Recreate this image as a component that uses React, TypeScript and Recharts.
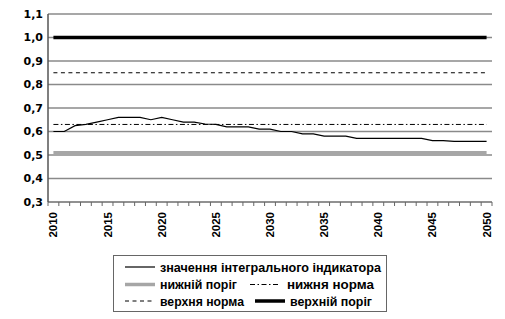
import { CartesianGrid, Legend, Line, LineChart, ReferenceLine, XAxis, YAxis } from 'recharts';

const FONT = '"Liberation Sans", Arial, sans-serif';

// years on the category axis
const years = [
  2010, 2011, 2012, 2013, 2014, 2015, 2016, 2017, 2018, 2019,
  2020, 2021, 2022, 2023, 2024, 2025, 2026, 2027, 2028, 2029,
  2030, 2031, 2032, 2033, 2034, 2035, 2036, 2037, 2038, 2039,
  2040, 2041, 2042, 2043, 2044, 2045, 2046, 2047, 2048, 2049, 2050,
];

// значення інтегрального індикатора
const indicatorValues = [
  0.6, 0.6, 0.625, 0.63, 0.64, 0.65, 0.66, 0.66, 0.66, 0.65,
  0.66, 0.65, 0.64, 0.64, 0.632, 0.63, 0.62, 0.62, 0.62, 0.61,
  0.61, 0.6, 0.6, 0.59, 0.59, 0.58, 0.58, 0.58, 0.571, 0.571,
  0.571, 0.571, 0.571, 0.571, 0.571, 0.561, 0.561, 0.558, 0.558, 0.558, 0.558,
];

// horizontal levels
const lowerThreshold = 0.51;
const lowerNorm = 0.63;
const upperNorm = 0.85;
const upperThreshold = 1.0;

const yTicks = [0.3, 0.4, 0.5, 0.6, 0.7, 0.8, 0.9, 1.0, 1.1];
const yearLabels = [2010, 2015, 2020, 2025, 2030, 2035, 2040, 2045, 2050];

const data = years.map((year, i) => ({ year, indicator: indicatorValues[i] }));

// tick marks sit on category borders, labels on category centres
const xTicks = [
  ...years.map((y) => y - 0.5),
  years[years.length - 1] + 0.5,
  ...yearLabels,
].sort((a, b) => a - b);

const firstYear = years[0];
const lastYear = years[years.length - 1];

const XTick = ({ x, y, payload }: any) => {
  const v = payload.value as number;
  if (v % 1 !== 0) {
    return <line x1={x} y1={y} x2={x} y2={y + 4} stroke="#666" strokeWidth={1} />;
  }
  if (!yearLabels.includes(v)) return <g />;
  return (
    <text
      transform={`translate(${x + 4},${y + 10}) rotate(-90)`}
      textAnchor="end"
      fontFamily={FONT}
      fontWeight={700}
      fontSize={11.5}
      fill="#000"
    >
      {v}
    </text>
  );
};

const renderLegend = () => {
  const txt = {
    fontFamily: FONT,
    fontWeight: 700,
    fontSize: 12.5,
    fill: '#000',
    lengthAdjust: 'spacingAndGlyphs' as const,
  };
  const r1 = 11;
  const r2 = 28.5;
  const r3 = 45;
  return (
    <div
      style={{
        width: 274,
        height: 57,
        border: '1px solid #666',
        boxSizing: 'border-box',
        background: '#fff',
      }}
    >
      <svg width={272} height={55} style={{ display: 'block' }}>
        <line x1={11} y1={r1} x2={41} y2={r1} stroke="#000" strokeWidth={1.2} />
        <text x={46} y={r1 + 4.5} textLength={221} {...txt}>значення інтегрального індикатора</text>

        <line x1={11} y1={r2} x2={41} y2={r2} stroke="#a6a6a6" strokeWidth={3.5} />
        <text x={46} y={r2 + 4.5} textLength={77} {...txt}>нижній поріг</text>
        <line x1={136} y1={r2} x2={166} y2={r2} stroke="#000" strokeWidth={1} strokeDasharray="5 2.5 1.5 2.5" />
        <text x={173} y={r2 + 4.5} textLength={87} {...txt}>нижня норма</text>

        <line x1={11} y1={r3} x2={41} y2={r3} stroke="#000" strokeWidth={1} strokeDasharray="4 3.5" />
        <text x={46} y={r3 + 4.5} textLength={84} {...txt}>верхня норма</text>
        <line x1={141} y1={r3} x2={171} y2={r3} stroke="#000" strokeWidth={3.5} />
        <text x={176} y={r3 + 4.5} textLength={82} {...txt}>верхній поріг</text>
      </svg>
    </div>
  );
};

const seg = (v: number) => [
  { x: firstYear, y: v },
  { x: lastYear, y: v },
];

export default function App() {
  return (
    <div style={{ position: 'absolute', left: 0, top: 0, background: '#fff' }}>
      <LineChart
        width={505}
        height={319}
        data={data}
        margin={{ top: 14, right: 13, left: 0, bottom: 77 }}
      >
        <CartesianGrid vertical={false} stroke="#8a8a8a" strokeWidth={1.5} />
        <XAxis
          dataKey="year"
          type="number"
          domain={[firstYear - 0.5, lastYear + 0.5]}
          ticks={xTicks}
          interval={0}
          tick={<XTick />}
          tickLine={false}
          tickSize={0}
          tickMargin={0}
          height={40}
          axisLine={{ stroke: '#8a8a8a', strokeWidth: 1.5 }}
          allowDataOverflow
        />
        <YAxis
          type="number"
          domain={[0.3, 1.1]}
          ticks={yTicks}
          interval={0}
          width={48}
          tickLine={false}
          tickSize={0}
          tickMargin={5}
          axisLine={{ stroke: '#555', strokeWidth: 1.5 }}
          tickFormatter={(v: number) => v.toFixed(1).replace('.', ',')}
          tick={{ fontFamily: '"DejaVu Sans", sans-serif', fontWeight: 700, fontSize: 11, fill: '#000' }}
          allowDataOverflow
        />
        <ReferenceLine segment={seg(lowerThreshold)} stroke="#a6a6a6" strokeWidth={3.5} />
        <ReferenceLine segment={seg(lowerNorm)} stroke="#000" strokeWidth={1} strokeDasharray="5 2.5 1.5 2.5" />
        <ReferenceLine segment={seg(upperNorm)} stroke="#000" strokeWidth={1} strokeDasharray="4 3.5" />
        <ReferenceLine segment={seg(upperThreshold)} stroke="#000" strokeWidth={3.5} />
        <Line
          dataKey="indicator"
          type="linear"
          stroke="#000"
          strokeWidth={1.2}
          dot={false}
          isAnimationActive={false}
        />
        <Legend
          content={renderLegend}
          layout="horizontal"
          verticalAlign="middle"
          align="center"
          wrapperStyle={{ left: 113, top: 255, width: 274, height: 57 }}
        />
      </LineChart>
    </div>
  );
}
